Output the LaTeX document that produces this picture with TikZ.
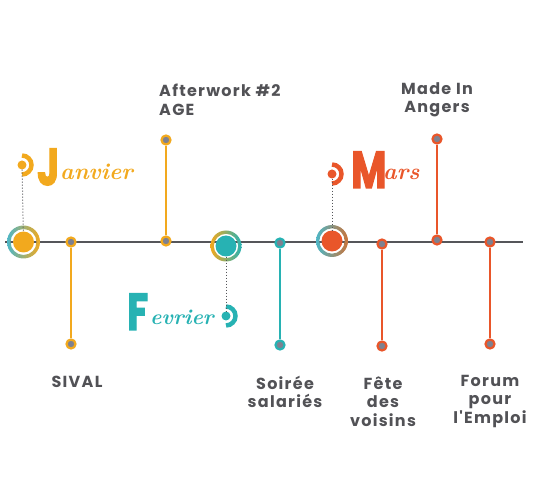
\documentclass[tikz,border=0pt]{standalone}
\usepackage{fontspec}
\newfontfamily\labfont{Poppins}[LetterSpace=8]
\newfontfamily\bigfont{Poppins}[BoldFeatures={FakeBold=2.5}]
\definecolor{cOr}{HTML}{F2A91E}
\definecolor{cTe}{HTML}{27B2B3}
\definecolor{cRe}{HTML}{E9562A}
\definecolor{cRing}{HTML}{4DB6C6}
\definecolor{cBrown}{HTML}{C9743A}
\definecolor{dotgray}{HTML}{7E8190}
\definecolor{linegray}{HTML}{55565A}
\definecolor{labgray}{HTML}{525256}
\tikzset{
  tline/.style={line width=1.3pt, draw=linegray},
  stem/.style={line width=2.4pt},
  sdot/.style={circle, fill=dotgray, minimum size=9pt, inner sep=0pt, line width=2.2pt},
  bigdot/.style={circle, minimum size=21pt, inner sep=0pt},
  mdot/.style={circle, minimum size=9pt, inner sep=0pt},
  marc/.style={line width=4.5pt},
  dots/.style={dotted, line width=1pt, draw=linegray},
  lab/.style={font=\labfont\bfseries\fontsize{16}{18.5}\selectfont, text=labgray, align=center, inner sep=0pt},
  bigL/.style={font=\bigfont\bfseries\fontsize{52}{52}\selectfont, xscale=0.74, inner sep=0pt, anchor=base west},
  scr/.style={font=\itshape\bfseries\fontsize{23}{23}\selectfont, inner sep=0pt, anchor=base west}
}
\begin{document}
\begin{tikzpicture}[x=1pt,y=-1pt]
\useasboundingbox (0,0) rectangle (552,486);
% timeline
\coordinate (tl0) at (5,242);
\coordinate (tl1) at (523,242);
\draw[tline] (tl0) -- (tl1);

% ---- Janvier
\shade[left color=cRing, right color=cOr, even odd rule] (23.5,242) circle (16.5) (23.5,242) circle (13);
\node[bigdot, fill=cOr] (jan) at (23.5,242) {};
\node[mdot, fill=cOr] (janm) at (22,165) {};
\draw[marc, cOr] (22,174.5) arc (90:-90:9.5);
\draw[dots] (janm) -- (jan);
\node[bigL, text=cOr] (janL) at (37,185) {J};
\node[scr, text=cOr] (janT) at (60,180) {anvier};

% ---- Fevrier
\shade[left color=cOr, right color=cTe, even odd rule] (226,246) circle (15.5) (226,246) circle (12.2);
\node[bigdot, fill=cTe] (fev) at (226,246) {};
\node[mdot, fill=cTe] (fevm) at (226,316) {};
\draw[marc, cTe] (226,325.5) arc (90:-90:9.5);
\draw[dots] (fev) -- (fevm);
\node[bigL, text=cTe] (fevL) at (127,330) {F};
\node[scr, text=cTe, font=\itshape\bfseries\fontsize{21.5}{22}\selectfont] (fevT) at (150,325) {evrier};

% ---- Mars
\shade[left color=cRing, right color=cBrown, even odd rule] (332,241) circle (16) (332,241) circle (12.7);
\node[bigdot, fill=cRe] (mar) at (332,241) {};
\node[mdot, fill=cRe] (marm) at (332,174) {};
\draw[marc, cRe] (332,183.5) arc (90:-90:9.5);
\draw[dots] (marm) -- (mar);
\node[bigL, text=cRe] (marL) at (351,188) {M};
\node[scr, text=cRe] (marT) at (383,180) {ars};

% ---- SIVAL
\node[sdot, draw=cOr] (e1a) at (71,242) {};
\node[sdot, draw=cOr] (e1b) at (71,344) {};
\draw[stem, cOr] (e1a) -- (e1b);
\node[lab] (l1) at (77,382) {SIVAL};

% ---- Afterwork
\node[sdot, draw=cOr] (e2a) at (166,241) {};
\node[sdot, draw=cOr] (e2b) at (166,140) {};
\draw[stem, cOr] (e2a) -- (e2b);
\node[lab, align=left, anchor=west] (l2) at (159,100) {Afterwork \#2\\AGE};

% ---- Soiree
\node[sdot, draw=cTe] (e3a) at (280,243) {};
\node[sdot, draw=cTe] (e3b) at (280,345) {};
\draw[stem, cTe] (e3a) -- (e3b);
\node[lab] (l3) at (285,392) {Soirée\\salariés};

% ---- Fete
\node[sdot, draw=cRe] (e4a) at (382,244) {};
\node[sdot, draw=cRe] (e4b) at (382,346) {};
\draw[stem, cRe] (e4a) -- (e4b);
\node[lab] (l4) at (383,401.5) {Fête\\des\\voisins};

% ---- Made In Angers
\node[sdot, draw=cRe] (e5a) at (437,240) {};
\node[sdot, draw=cRe] (e5b) at (437,139) {};
\draw[stem, cRe] (e5a) -- (e5b);
\node[lab] (l5) at (437,100) {Made In\\Angers};

% ---- Forum
\node[sdot, draw=cRe] (e6a) at (490,242) {};
\node[sdot, draw=cRe] (e6b) at (490,344) {};
\draw[stem, cRe] (e6a) -- (e6b);
\node[lab] (l6) at (490,401.5) {Forum\\pour\\l'Emploi};
\end{tikzpicture}
\end{document}
